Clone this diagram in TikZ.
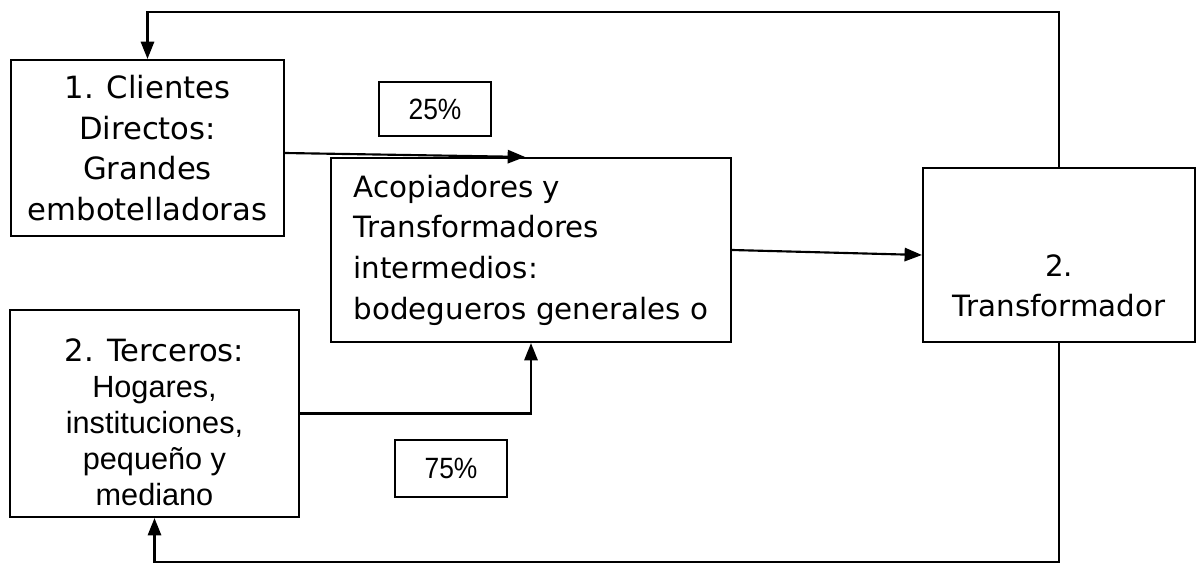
\documentclass[tikz,border=0pt]{standalone}
\usepackage{fontspec}
\setmainfont{DejaVu Sans}
\newfontfamily\arialfont{Liberation Sans}
\newfontfamily\narrowfont[FakeStretch=0.9]{Liberation Sans}
\usetikzlibrary{arrows.meta}

\begin{document}
\begin{tikzpicture}[x=0.75pt,y=-0.75pt,
        caja/.style={draw,line width=1.6pt,inner sep=0pt,align=center,
            font=\fontsize{22}{30.5}\selectfont},
        porcentaje/.style={draw,line width=1.6pt,inner sep=0pt,
            minimum width=84pt,font=\narrowfont\fontsize{22}{26}\selectfont},
        texto/.style={align=center,inner sep=0pt},
        flecha/.style={line width=1.6pt,-{Triangle[length=13pt,width=10pt]}}]
    \useasboundingbox (0,0) rectangle (1200,564);

    % cajas
    \node[caja,font=\fontsize{23}{30.5}\selectfont,minimum width=204.75pt,
        minimum height=132pt] (clientes) at (147.5,148)
        {1. Clientes\\Directos:\\Grandes\\embotelladoras};
    \node[caja,align=left,minimum width=300pt,minimum height=138pt] (acop) at (531,250)
        {Acopiadores y\\Transformadores\\intermedios:\\bodegueros generales o};
    \node[caja,minimum width=204pt,minimum height=130.5pt] (transf) at (1059,255) {};
    \node[texto,font=\fontsize{22}{30}\selectfont] (transf-txt) at (1059,286)
        {2.\\Transformador};
    \node[caja,minimum width=216.75pt,minimum height=155.25pt] (terceros) at (154.5,413.5) {};
    \node[texto,font=\fontsize{23}{27}\selectfont] (terceros-txt) at (154.5,422)
        {2. Terceros:\\\arialfont Hogares,\\\arialfont instituciones,\\
         \arialfont peque\~no y\\\arialfont mediano};

    % porcentajes
    \node[porcentaje,minimum height=40.5pt] (p25) at (435,109) {25\%};
    \node[porcentaje,minimum height=42.75pt] (p75) at (451,468.5) {75\%};

    % flechas
    \draw[flecha] ([yshift=-3.75pt]clientes.east) -- ([xshift=-4.5pt]acop.north);
    \draw[flecha] (terceros.east) -| (acop.south);
    \draw[flecha] (acop.east) -- (transf.west);
    \draw[flecha] (transf.north) -- (transf.north |- 0,12) -| (clientes.north);
    \draw[flecha] (transf.south) -- (transf.south |- 0,562) -| (terceros.south);
\end{tikzpicture}
\end{document}
